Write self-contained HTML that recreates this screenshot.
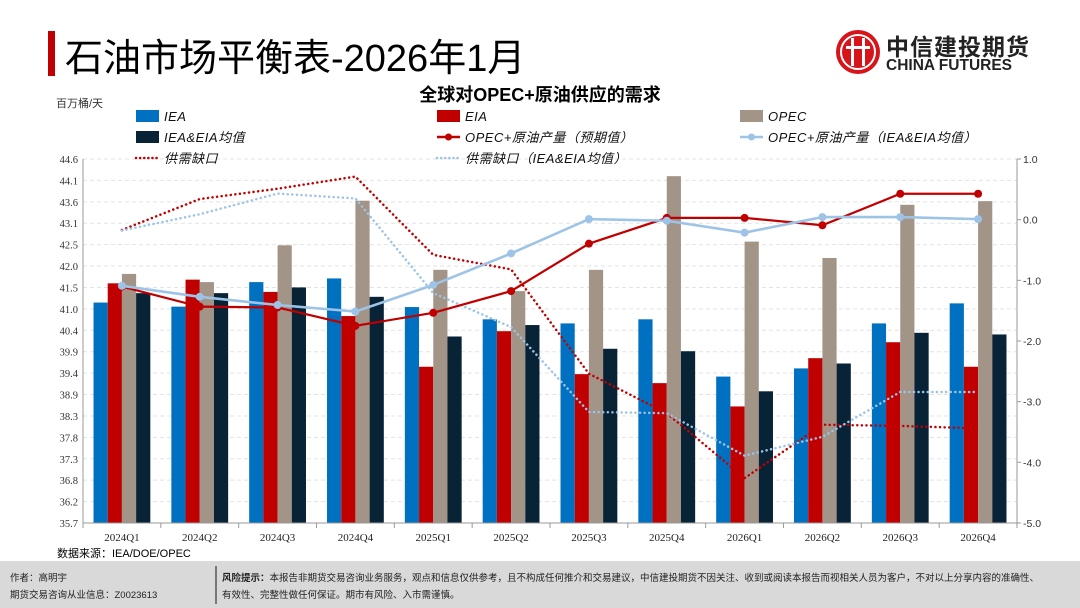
<!DOCTYPE html>
<html><head><meta charset="utf-8">
<style>
body{margin:0;width:1080px;height:608px;overflow:hidden;background:#fff;font-family:"Liberation Sans","Noto Sans CJK SC",sans-serif;position:relative}
.abs{position:absolute}
</style></head><body>
<div class="abs" style="left:48px;top:31px;width:7px;height:45px;background:#c00000"></div>
<div class="abs" style="left:65px;top:27px;font-size:38px;color:#000;font-family:'Liberation Sans','Noto Sans CJK SC',sans-serif">石油市场平衡表-2026年1月</div>
<div class="abs" style="left:834px;top:28px;width:210px;height:50px">
<svg width="50" height="50" style="position:absolute;left:0;top:0"><circle cx="24" cy="24" r="22" fill="#d7141a"/><circle cx="24" cy="24" r="17" fill="none" stroke="#fff" stroke-width="2"/><rect x="17" y="10" width="3" height="28" fill="#fff"/><rect x="28" y="10" width="3" height="28" fill="#fff"/><rect x="12" y="18" width="24" height="3" fill="#fff"/></svg>
<div style="position:absolute;left:52px;top:0;font-size:23px;font-weight:bold;color:#222;letter-spacing:1px">中信建投期货</div>
<div style="position:absolute;left:52px;top:29px;font-size:15.5px;color:#222;font-weight:bold">CHINA FUTURES</div>
</div>
<div class="abs" style="left:0;width:1080px;top:81px;text-align:center;font-size:18px;font-weight:bold;color:#000">全球对OPEC+原油供应的需求</div>
<div class="abs" style="left:56px;top:95px;font-size:11px;color:#333">百万桶/天</div>
<svg id="chart" class="abs" style="left:0;top:0" width="1080" height="608"></svg>
<div class="abs" style="left:57px;top:545px;font-size:11px;color:#000">数据来源：IEA/DOE/OPEC</div>
<div class="abs" style="left:0;top:561px;width:1080px;height:47px;background:#d9d9d9"></div>
<div class="abs" style="left:10px;top:570px;font-size:9.5px;color:#222;line-height:17px">作者：高明宇<br>期货交易咨询从业信息：Z0023613</div>
<div class="abs" style="left:215px;top:566px;width:2px;height:38px;background:#777"></div>
<div class="abs" style="left:222px;top:570px;font-size:9.5px;color:#222;line-height:17px;width:820px"><b>风险提示：</b>本报告非期货交易咨询业务服务，观点和信息仅供参考，且不构成任何推介和交易建议，中信建投期货不因关注、收到或阅读本报告而视相关人员为客户，不对以上分享内容的准确性、有效性、完整性做任何保证。期市有风险、入市需谨慎。</div>
<script>
const categories=["2024Q1","2024Q2","2024Q3","2024Q4","2025Q1","2025Q2","2025Q3","2025Q4","2026Q1","2026Q2","2026Q3","2026Q4"];
const iea=[41.09,40.99,41.59,41.68,40.98,40.68,40.58,40.68,39.28,39.48,40.58,41.07];
const eia=[41.56,41.65,41.35,40.76,39.52,40.39,39.34,39.12,38.55,39.73,40.12,39.52];
const opec=[41.79,41.59,42.49,43.58,41.89,41.37,41.89,44.18,42.58,42.18,43.48,43.57];
const avg=[41.32,41.32,41.46,41.23,40.26,40.54,39.96,39.90,38.92,39.60,40.35,40.31];
const prodExpected=[41.48,40.99,40.97,40.52,40.84,41.37,42.53,43.16,43.16,42.98,43.75,43.75];
const prodAvg=[41.50,41.23,41.03,40.87,41.52,42.29,43.13,43.09,42.80,43.18,43.18,43.13];
const gap=[-0.17,0.34,0.51,0.71,-0.58,-0.82,-2.54,-3.19,-4.26,-3.38,-3.40,-3.44];
const gapAvg=[-0.18,0.09,0.43,0.35,-1.21,-1.77,-3.17,-3.19,-3.89,-3.58,-2.84,-2.84];
const leftTicks=["44.6","44.1","43.6","43.1","42.5","42.0","41.5","41.0","40.4","39.9","39.4","38.9","38.3","37.8","37.3","36.8","36.2","35.7"];
const rightTicks=["1.0","0.0","-1.0","-2.0","-3.0","-4.0","-5.0"];

const svg=document.getElementById('chart');
const NS='http://www.w3.org/2000/svg';
const X0=83,X1=1017,Y0=159,Y1=523,LMIN=35.7,LMAX=44.6,RMIN=-5,RMAX=1;
const bw=(X1-X0)/categories.length;
function yL(v){return Y1-(v-LMIN)/(LMAX-LMIN)*(Y1-Y0);}
function yR(v){return Y1-(v-RMIN)/(RMAX-RMIN)*(Y1-Y0);}
function xC(i){return X0+bw*(i+0.5);}
function mk(tag,attrs){const e=document.createElementNS(NS,tag);for(const k in attrs)e.setAttribute(k,attrs[k]);svg.appendChild(e);return e;}

leftTicks.forEach((t,i)=>{
  const y=Y0+i*(Y1-Y0)/(leftTicks.length-1);
  if(i<leftTicks.length-1){const g=mk('line',{x1:X0,x2:X1,y1:y,y2:y,stroke:'#e3e3e3','stroke-dasharray':'4,3','stroke-width':1});
  
  }
  const tx=mk('text',{x:X0-5,y:y+4,'text-anchor':'end','font-size':10.5,fill:'#333','font-family':'Liberation Serif,serif'});
  tx.textContent=t;
  
  
});
rightTicks.forEach((t,i)=>{
  const y=Y0+i*(Y1-Y0)/(rightTicks.length-1);
  mk('line',{x1:X1,x2:X1+4,y1:y,y2:y,stroke:'#999'});
  const tx=mk('text',{x:X1+6,y:y+4,'font-size':10.5,fill:'#333','font-family':'Liberation Sans,sans-serif'});
  tx.textContent=t;
  
  
});
const series=[[iea,'#0070c0','bar-iea'],[eia,'#c00000','bar-eia'],[opec,'#a39488','bar-opec'],[avg,'#082236','bar-iea-eia-avg']];
const barW=14.2;
categories.forEach((c,i)=>{
  series.forEach((s,j)=>{
    const x=xC(i)-2*barW+j*barW;const y=yL(s[0][i]);
    const r=mk('rect',{x:x,y:y,width:barW,height:Y1-y,fill:s[1]});
    
    
  });
  const tx=mk('text',{x:xC(i),y:Y1+18,'text-anchor':'middle','font-size':11,fill:'#222','font-family':'Liberation Serif,serif'});
  tx.textContent=c;
  
  
  mk('line',{x1:X0+bw*i,x2:X0+bw*i,y1:Y1,y2:Y1+5,stroke:'#999'});
});
mk('line',{x1:X1,x2:X1,y1:Y1,y2:Y1+5,stroke:'#999'});
mk('line',{x1:X0,x2:X0,y1:Y0,y2:Y1,stroke:'#999'});
mk('line',{x1:X1,x2:X1,y1:Y0,y2:Y1,stroke:'#999'});
mk('line',{x1:X0,x2:X1,y1:Y1,y2:Y1,stroke:'#999'});
function line(data,fy,color,w,dash,name,markers){
  const pts=data.map((v,i)=>xC(i)+','+fy(v)).join(' ');
  const a={points:pts,fill:'none',stroke:color,'stroke-width':w};
  if(dash){a['stroke-dasharray']=dash;a['stroke-linecap']='round';}
  const p=mk('polyline',a);
  
  
  if(markers)data.forEach((v,i)=>{const c=mk('circle',{cx:xC(i),cy:fy(v),r:4,fill:color});
    
    });
}
line(gap,yR,'#c00000',2.5,'0.1,4.5','gap-line',false);
line(gapAvg,yR,'#9dc3e6',2.5,'0.1,4.5','gap-avg-line',false);
line(prodExpected,yL,'#c00000',2.2,null,'opec-production-expected-line',true);
line(prodAvg,yL,'#9dc3e6',2.6,null,'opec-production-avg-line',true);
const legend=[
 [136,116,'rect','#0070c0','IEA'],[437,116,'rect','#c00000','EIA'],[740,116,'rect','#a39488','OPEC'],
 [136,137,'rect','#082236','IEA&EIA均值'],[437,137,'mline','#c00000','OPEC+原油产量（预期值）'],[740,137,'mline','#9dc3e6','OPEC+原油产量（IEA&EIA均值）'],
 [136,158,'dot','#c00000','供需缺口'],[437,158,'dot','#9dc3e6','供需缺口（IEA&EIA均值）']];
legend.forEach(l=>{
  const [x,y,t,c,txt]=l;
  if(t==='rect')mk('rect',{x:x,y:y-6,width:23,height:12,fill:c});
  else if(t==='mline'){mk('line',{x1:x,x2:x+23,y1:y,y2:y,stroke:c,'stroke-width':2.5});mk('circle',{cx:x+11.5,cy:y,r:3.5,fill:c});}
  else mk('line',{x1:x,x2:x+23,y1:y,y2:y,stroke:c,'stroke-width':2.5,'stroke-dasharray':'0.1,4','stroke-linecap':'round'});
  const tx=mk('text',{x:x+28,y:y+5,'font-size':13,fill:'#111','font-style':'italic','font-family':'Liberation Sans,Noto Sans CJK SC,sans-serif','letter-spacing':'0.5'});
  tx.textContent=txt;
  
  
});
</script>
</body></html>
